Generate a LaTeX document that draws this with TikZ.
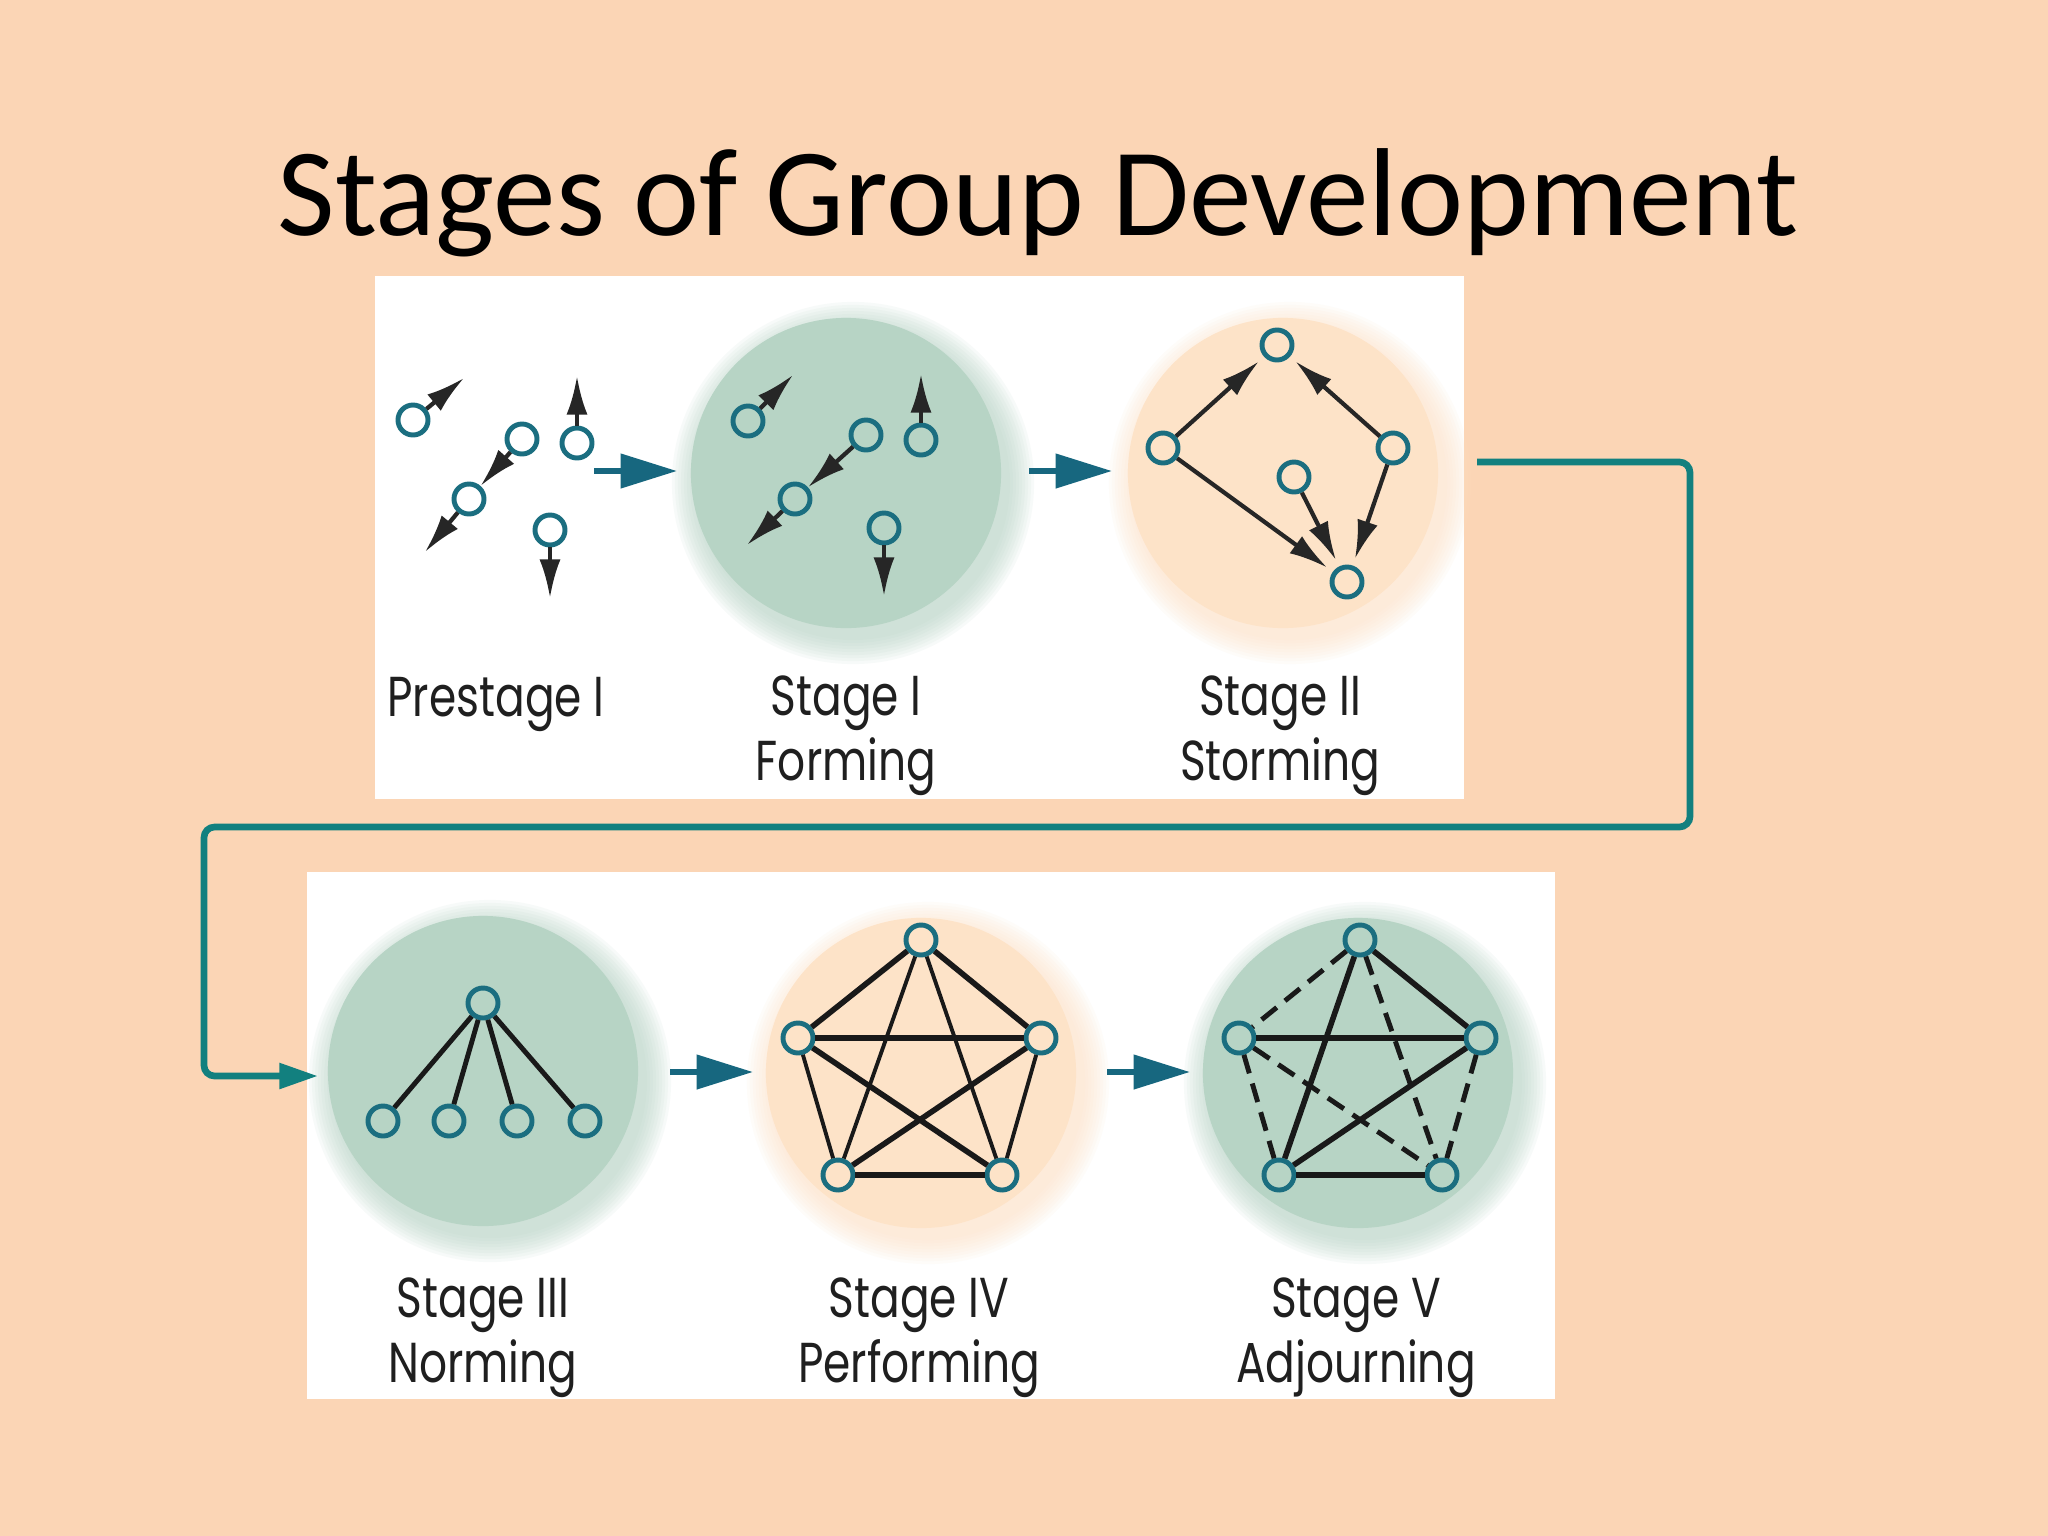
\documentclass[tikz,border=0pt]{standalone}
\usepackage{fontspec}
\setmainfont{Carlito}
\newfontfamily\labfont[FakeStretch=0.78]{Poppins}
\usetikzlibrary{arrows.meta}
\definecolor{slidebg}{HTML}{FBD5B5}
\definecolor{sage}{HTML}{B7D4C5}
\definecolor{apricot}{HTML}{FDE3C8}
\definecolor{ring}{HTML}{1B6E80}
\definecolor{stepc}{HTML}{17677F}
\definecolor{linkc}{HTML}{12807F}
\newcommand{\stagedisc}[3]{%
  \foreach \k in {1,...,9}
    \fill[#3, opacity=0.1] (#1+7,#2+10) circle [radius={1.54cm+\k*0.03cm}];
  \fill[#3] (#1,#2) circle [radius=1.55cm];}
\begin{document}
\begin{tikzpicture}[x=0.01cm, y=-0.01cm,
    pt/.style={circle, draw=ring, line width=1.4pt, minimum size=0.3cm, inner sep=0pt},
    mv/.style={-{Latex[length=11pt,width=6pt]}, line width=1.2pt, black!85},
    go/.style={-{Triangle[length=16pt,width=9.5pt]}, line width=1.7pt, stepc},
    link/.style={-{Triangle[length=11pt,width=7pt]}, line width=1.9pt, linkc, rounded corners=3pt},
    lab/.style={font=\labfont\fontsize{16}{18.5}\selectfont, align=center, text=black!88},
    thk/.style={line width=1.6pt, black!90},
    thn/.style={line width=1.1pt, black!90},
    dsh/.style={line width=1.4pt, black!90, dash pattern=on 5.5pt off 3pt}]
  \useasboundingbox (0,0) rectangle (2048,1536);
  \fill[slidebg] (0,0) rectangle (2048,1536);
  \node (title) at (1038,203) {\fontsize{35.6}{40}\selectfont Stages of Group Development};
  \fill[white] (375,276) rectangle (1464,799);
  \fill[white] (307,872) rectangle (1555,1399);

  \stagedisc{846}{473}{sage}
  \stagedisc{1283}{473}{apricot}
  \stagedisc{483}{1071}{sage}
  \stagedisc{921}{1073}{apricot}
  \stagedisc{1358}{1073}{sage}

  % prestage
  \node[pt] (p1) at (413,420) {};
  \node[pt] (p2) at (522,439) {};
  \node[pt] (p3) at (469,499) {};
  \node[pt] (p4) at (577,443) {};
  \node[pt] (p5) at (550,530) {};
  \coordinate (p1t) at (464,378);
  \coordinate (p3t) at (425,552);
  \coordinate (p4t) at (577,376);
  \coordinate (p5t) at (550,598);
  \draw[mv] (p1) -- (p1t);
  \draw[mv] (p2) -- (p3);
  \draw[mv] (p3) -- (p3t);
  \draw[mv] (p4) -- (p4t);
  \draw[mv] (p5) -- (p5t);

  % forming
  \node[pt] (f1) at (748,421) {};
  \node[pt] (f2) at (866,435) {};
  \node[pt] (f3) at (795,499) {};
  \node[pt] (f4) at (921,440) {};
  \node[pt] (f5) at (884,528) {};
  \coordinate (f1t) at (793,375);
  \coordinate (f3t) at (747,545);
  \coordinate (f4t) at (921,374);
  \coordinate (f5t) at (884,596);
  \draw[mv] (f1) -- (f1t);
  \draw[mv] (f2) -- (f3);
  \draw[mv] (f3) -- (f3t);
  \draw[mv] (f4) -- (f4t);
  \draw[mv] (f5) -- (f5t);

  % storming
  \node[pt] (s1) at (1277,345) {};
  \node[pt] (s2) at (1163,448) {};
  \node[pt] (s3) at (1393,448) {};
  \node[pt] (s4) at (1294,477) {};
  \node[pt] (s5) at (1347,582) {};
  \begin{scope}[mv, shorten >=2pt]
    \draw (s2) to (s1);
    \draw (s3) to (s1);
    \draw (s2) to (s5);
    \draw (s4) to (s5);
    \draw (s3) to (s5);
  \end{scope}

  % norming
  \node[pt] (n0) at (483,1003) {};
  \node[pt] (n1) at (383,1121) {};
  \node[pt] (n2) at (449,1121) {};
  \node[pt] (n3) at (517,1121) {};
  \node[pt] (n4) at (585,1121) {};
  \begin{scope}[line width=1.4pt, black!90]
    \draw (n0) to (n1);
    \draw (n0) to (n2);
    \draw (n0) to (n3);
    \draw (n0) to (n4);
  \end{scope}

  % performing
  \node[pt] (q1) at (921,940) {};
  \node[pt] (q2) at (798,1038) {};
  \node[pt] (q3) at (1041,1038) {};
  \node[pt] (q4) at (838,1175) {};
  \node[pt] (q5) at (1002,1175) {};
  \draw[thk] (q1) to (q2);
  \draw[thk] (q1) to (q3);
  \draw[thk] (q2) to (q3);
  \draw[thk] (q4) to (q5);
  \draw[thk] (q2) to (q5);
  \draw[thk] (q3) to (q4);
  \draw[thn] (q1) to (q4);
  \draw[thn] (q1) to (q5);
  \draw[thn] (q2) to (q4);
  \draw[thn] (q3) to (q5);

  % adjourning
  \node[pt] (a1) at (1360,940) {};
  \node[pt] (a2) at (1239,1038) {};
  \node[pt] (a3) at (1481,1038) {};
  \node[pt] (a4) at (1279,1175) {};
  \node[pt] (a5) at (1442,1175) {};
  \draw[thk] (a1) to (a3);
  \draw[thk] (a2) to (a3);
  \draw[thk] (a4) to (a5);
  \draw[thk] (a3) to (a4);
  \draw[thk] (a1) to (a4);
  \draw[dsh] (a1) to (a2);
  \draw[dsh] (a1) to (a5);
  \draw[dsh] (a2) to (a4);
  \draw[dsh] (a2) to (a5);
  \draw[dsh] (a3) to (a5);

  % labels
  \node[lab] (l0) at (496,704) {Prestage I};
  \node[lab] (l1) at (846,736) {Stage I\\Forming};
  \node[lab] (l2) at (1280,736) {Stage II\\Storming};
  \node[lab] (l3) at (483,1338) {Stage III\\Norming};
  \node[lab] (l4) at (919,1338) {Stage IV\\Performing};
  \node[lab] (l5) at (1356,1338) {Stage V\\Adjourning};

  % arrows between stages
  \coordinate (g0) at (594,471);
  \coordinate (g1) at (677,471);
  \coordinate (g2) at (1029,471);
  \coordinate (g3) at (1112,471);
  \coordinate (g4) at (670,1072);
  \coordinate (g5) at (753,1072);
  \coordinate (g6) at (1107,1072);
  \coordinate (g7) at (1190,1072);
  \draw[go] (g0) -- (g1);
  \draw[go] (g2) -- (g3);
  \draw[go] (g4) -- (g5);
  \draw[go] (g6) -- (g7);

  \coordinate (c0) at (1477,462);
  \coordinate (c1) at (1690,827);
  \coordinate (c2) at (204,1076);
  \coordinate (c3) at (318,1076);
  \draw[link] (c0) -| (c1) -| (c2) -- (c3);
\end{tikzpicture}
\end{document}
